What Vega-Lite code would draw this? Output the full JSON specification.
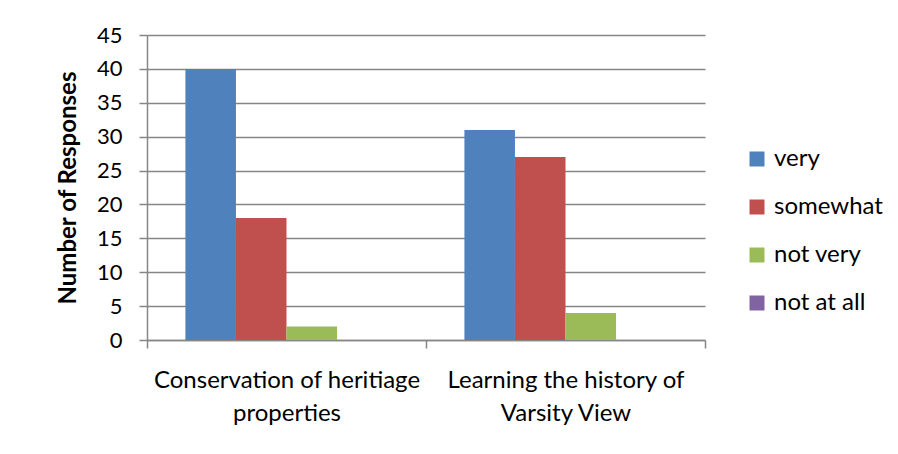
{
  "$schema": "https://vega.github.io/schema/vega-lite/v6.json",
  "autosize": "none",
  "width": 558,
  "height": 305,
  "padding": {"left": 147, "top": 35, "right": 193, "bottom": 114},
  "background": "white",
  "data": {
    "values": [
      {"topic": "Conservation of heritiage properties", "level": "very", "responses": 40},
      {"topic": "Conservation of heritiage properties", "level": "somewhat", "responses": 18},
      {"topic": "Conservation of heritiage properties", "level": "not very", "responses": 2},
      {"topic": "Conservation of heritiage properties", "level": "not at all", "responses": 0},
      {"topic": "Learning the history of Varsity View", "level": "very", "responses": 31},
      {"topic": "Learning the history of Varsity View", "level": "somewhat", "responses": 27},
      {"topic": "Learning the history of Varsity View", "level": "not very", "responses": 4},
      {"topic": "Learning the history of Varsity View", "level": "not at all", "responses": 0}
    ]
  },
  "mark": {"type": "bar"},
  "encoding": {
    "x": {
      "field": "topic",
      "type": "nominal",
      "sort": null,
      "title": null,
      "scale": {"paddingInner": 0, "paddingOuter": 0},
      "axis": {
        "labelAngle": 0,
        "tickBand": "extent",
        "tickSize": 8,
        "tickColor": "#868686",
        "tickWidth": 1.5,
        "domainColor": "#868686",
        "domainWidth": 1.5,
        "labelFont": "Lato",
        "labelFontSize": 24,
        "labelColor": "#000000",
        "labelPadding": 20,
        "labelLineHeight": 33,
        "labelBaseline": "top",
        "labelLimit": 400,
        "labelExpr": "datum.label == 'Conservation of heritiage properties' ? ['Conservation of heritiage', 'properties'] : datum.label == 'Learning the history of Varsity View' ? ['Learning the history of', 'Varsity View'] : ''"
      }
    },
    "xOffset": {
      "field": "level",
      "type": "nominal",
      "sort": ["very", "somewhat", "not very", "not at all"],
      "scale": {"paddingInner": 0, "paddingOuter": 0.76}
    },
    "y": {
      "field": "responses",
      "type": "quantitative",
      "title": "Number of Responses",
      "scale": {"domain": [0, 45], "nice": false},
      "axis": {
        "values": [0, 5, 10, 15, 20, 25, 30, 35, 40, 45],
        "tickSize": 8,
        "tickColor": "#868686",
        "tickWidth": 1.5,
        "domainColor": "#868686",
        "domainWidth": 1.5,
        "gridColor": "#868686",
        "gridWidth": 1.5,
        "labelFont": "Lato",
        "labelFontSize": 22,
        "labelColor": "#000000",
        "labelPadding": 17,
        "titleFont": "Lato",
        "titleFontSize": 24,
        "titleFontWeight": "bold",
        "titleColor": "#000000",
        "titlePadding": 16
      }
    },
    "color": {
      "field": "level",
      "type": "nominal",
      "sort": ["very", "somewhat", "not very", "not at all"],
      "scale": {
        "domain": ["very", "somewhat", "not very", "not at all"],
        "range": ["#4F81BD", "#C0504D", "#9BBB59", "#8064A2"]
      },
      "legend": {
        "title": null,
        "orient": "none",
        "legendX": 598,
        "legendY": 112,
        "symbolType": "square",
        "symbolSize": 225,
        "symbolStrokeWidth": 0,
        "labelFont": "Lato",
        "labelFontSize": 24,
        "labelColor": "#000000",
        "labelOffset": 5,
        "rowPadding": 24
      }
    }
  },
  "config": {
    "view": {"stroke": null}
  }
}
